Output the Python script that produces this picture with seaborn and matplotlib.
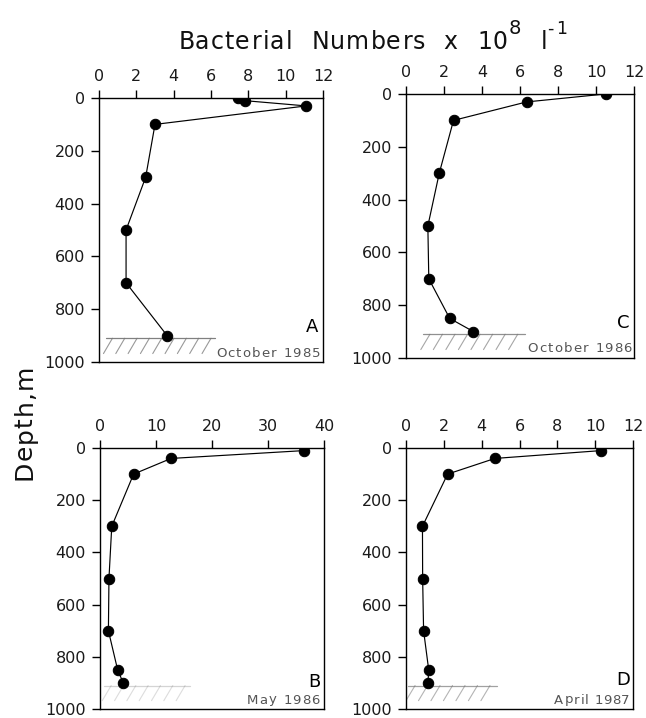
import numpy as np
import pandas as pd
import matplotlib
matplotlib.use("Agg")
import matplotlib.pyplot as plt
import matplotlib.transforms as mtransforms
from matplotlib.font_manager import FontProperties, findfont, get_font
import seaborn as sns

# Depth profiles of bacterial numbers (x 10^8 per litre)
depth_a = [0, 10, 30, 100, 300, 500, 700, 900]
count_a = [7.45, 7.8, 11.1, 3.0, 2.5, 1.45, 1.45, 3.65]

depth_c = [0, 30, 100, 300, 500, 700, 850, 900]
count_c = [10.5, 6.35, 2.5, 1.75, 1.15, 1.2, 2.3, 3.55]

depth_b = [10, 40, 100, 300, 500, 700, 850, 900]
count_b = [36.4, 12.7, 6.0, 2.1, 1.6, 1.5, 3.15, 4.15]

depth_d = [10, 40, 100, 300, 500, 700, 850, 900]
count_d = [10.3, 4.7, 2.2, 0.87, 0.88, 0.93, 1.2, 1.16]

panel_letters = ["A", "C", "B", "D"]
panel_dates = ["October 1985", "October 1986", "May 1986", "April 1987"]
x_maxima = [12, 12, 40, 12]
x_steps = [2, 2, 10, 2]
depth_ticks = [0, 200, 400, 600, 800, 1000]

W, H = 646, 718
FAMILY = "DejaVu Sans"

sns.set_theme(style="ticks")
plt.rcParams["font.family"] = [FAMILY]
plt.rcParams["axes.linewidth"] = 1.0

fig = plt.figure(figsize=(W / 100, H / 100), dpi=100)


def glyph_metrics(s, size):
    """Advance widths and left bearings (pixels at 100 dpi) of each char."""
    font = get_font(findfont(FontProperties(family=FAMILY)))
    font.set_size(size, 100)
    out = []
    for c in s:
        g = font.load_char(ord(c))
        out.append((g.linearHoriAdvance / 65536, g.horiBearingX / 64))
    return out


def spaced_text(segments, x0, y0, total=None, track=0.0, vertical=False,
                color="#111111"):
    """Lay out letter-spaced text; x0, y0 are pixel positions from the
    top-left corner of the figure, at the start of the baseline.  Any width
    left over after the letter tracking is shared out among the spaces."""
    items = []
    for s, size, rise in segments:
        for c, (adv, bear) in zip(s, glyph_metrics(s, size)):
            items.append((c, size, rise, adv, bear))
    natural = sum(it[3] for it in items) + track * (len(items) - 1)
    n_sp = sum(1 for it in items if it[0] == " ")
    extra_sp = 0.0
    if total is not None:
        if n_sp:
            extra_sp = max((total - natural) / n_sp, 0.0)
        elif len(items) > 1:
            track += (total - natural) / (len(items) - 1)
    pos = 0.0
    for c, size, rise, adv, bear in items:
        if c == " ":
            pos += adv + track + extra_sp
            continue
        if vertical:
            fig.text((x0 - rise) / W, 1 - (y0 - pos - bear) / H, c,
                     rotation=90, rotation_mode="anchor", ha="left",
                     va="baseline", fontsize=size, color=color)
        else:
            fig.text((x0 + pos + bear) / W, 1 - (y0 - rise) / H, c,
                     ha="left", va="baseline", fontsize=size, color=color)
        pos += adv + track


# axes boxes in pixels: left, top, right, bottom
boxes = [
    (99, 98, 323, 362),
    (406, 94, 634, 358),
    (100, 448, 324, 709),
    (406, 448, 633, 709),
]
letter_offsets = [30, 30, 22, 24]
profiles = [(depth_a, count_a), (depth_c, count_c),
            (depth_b, count_b), (depth_d, count_d)]
seabed_spans = [(0.03, 0.52), (0.075, 0.52), (0.02, 0.40), (0.01, 0.40)]
seabed_alpha = [0.75, 0.65, 0.25, 0.55]
date_widths = [103, 102, 73, 74]
date_tracks = [1.2, 1.2, 1.1, 0.7]

for (box, (dep, cnt), letter, date, xmax, step, span, balpha, loff, dw,
     dtr) in zip(boxes, profiles, panel_letters, panel_dates, x_maxima,
                 x_steps, seabed_spans, seabed_alpha, letter_offsets,
                 date_widths, date_tracks):
    l, t, r, b = box
    ax = fig.add_axes([l / W, 1 - b / H, (r - l) / W, (b - t) / H])
    df = pd.DataFrame({"count": cnt, "depth": dep})
    sns.lineplot(data=df, x="count", y="depth", sort=False, estimator=None,
                 color="black", linewidth=0.85, marker="o", markersize=7.5,
                 markeredgecolor="black", markerfacecolor="black", ax=ax)
    ax.set_xlim(0, xmax)
    ax.set_ylim(1000, 0)
    ax.set_xticks(np.arange(0, xmax + step, step))
    ax.set_yticks(depth_ticks)
    ax.xaxis.tick_top()
    ax.tick_params(axis="both", labelsize=11.5, length=5.5, width=1,
                   color="black", labelcolor="#1a1a1a", pad=4.5)
    ax.set_xlabel("")
    ax.set_ylabel("")
    for sp in ax.spines.values():
        sp.set_visible(True)
        sp.set_color("black")

    # seabed marker: horizontal line with diagonal hatching below it
    trans = mtransforms.blended_transform_factory(ax.transAxes, ax.transData)
    ax.plot(span, [910, 910], transform=trans, color="#555555",
            linewidth=0.9, alpha=balpha, zorder=1)
    for hx in np.arange(span[0] + 0.03, span[1] + 0.01, 0.055):
        ax.plot([hx - 0.04, hx], [968, 910], transform=trans,
                color="#777777", linewidth=0.8, alpha=balpha, zorder=1)

    # panel letter and sampling date, right-aligned inside the box
    lw = sum(a for a, _ in glyph_metrics(letter, 13))
    spaced_text([(letter, 13, 0)], r - 5 - lw, b - loff, color="black")
    spaced_text([(date, 9.5, 0)], r - 5 - dw, b - 5.5, dw, track=dtr,
                color="#555555")

# overall axis titles
spaced_text([("Bacterial Numbers x 10", 17, 0), ("8", 14, 15),
             (" l", 17, 0), ("-1", 12.5, 15)],
            176, 49, 389, track=1.2)
spaced_text([("Depth,m", 18, 0)], 32, 482, 115, vertical=True)

fig.savefig("out.png", dpi=100)
